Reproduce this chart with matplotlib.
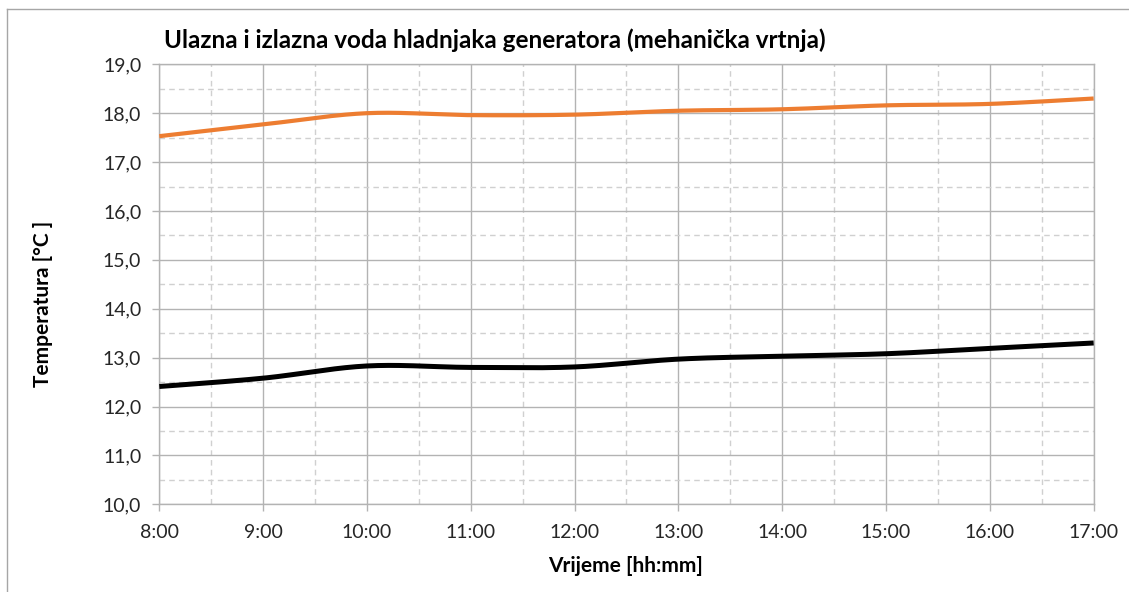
import numpy as np
import matplotlib
matplotlib.use("Agg")
from matplotlib import pyplot as plt
from matplotlib.lines import Line2D

plt.rcParams['font.family'] = ['Lato', 'DejaVu Sans']

# hourly readings, 8:00 - 17:00
hours = [8, 9, 10, 11, 12, 13, 14, 15, 16, 17]
hourLabels = ["8:00", "9:00", "10:00", "11:00", "12:00", "13:00", "14:00", "15:00", "16:00", "17:00"]
izlazna = [17.53, 17.77, 18.00, 17.96, 17.97, 18.05, 18.08, 18.16, 18.19, 18.30]
ulazna = [12.41, 12.58, 12.83, 12.80, 12.81, 12.97, 13.03, 13.08, 13.19, 13.30]
yTicks = [10, 11, 12, 13, 14, 15, 16, 17, 18, 19]

def smooth(x, y, n=30):
    # bezier smoothing like excel (catmull-rom control points)
    x = np.asarray(x, float)
    y = np.asarray(y, float)
    px = np.concatenate(([x[0]], x, [x[-1]]))
    py = np.concatenate(([y[0]], y, [y[-1]]))
    outx = []
    outy = []
    t = np.linspace(0, 1, n)
    for i in range(1, len(px) - 2):
        p0 = np.array([px[i], py[i]])
        p3 = np.array([px[i + 1], py[i + 1]])
        p1 = p0 + (np.array([px[i + 1], py[i + 1]]) - np.array([px[i - 1], py[i - 1]])) / 6
        p2 = p3 - (np.array([px[i + 2], py[i + 2]]) - np.array([px[i], py[i]])) / 6
        b = ((1 - t) ** 3)[:, None] * p0 + (3 * (1 - t) ** 2 * t)[:, None] * p1 \
            + (3 * (1 - t) * t ** 2)[:, None] * p2 + (t ** 3)[:, None] * p3
        outx.extend(b[:, 0])
        outy.extend(b[:, 1])
    return outx, outy

fig = plt.figure(figsize=(11.29, 5.92), dpi=100)
ax = fig.add_axes([0.1411, 0.1481, 0.8276, 0.7433])

sx, sy = smooth(hours, izlazna)
ax.plot(sx, sy, color="#ED7D31", lw=3.0, solid_capstyle="butt", zorder=3)
sx, sy = smooth(hours, ulazna)
ax.plot(sx, sy, color="black", lw=3.6, solid_capstyle="butt", zorder=3)

ax.set_xlim(8, 17)
ax.set_ylim(10, 19)
ax.set_xticks(hours)
ax.set_xticklabels(hourLabels)
ax.set_yticks(yTicks)
ax.set_yticklabels([("%.1f" % v).replace(".", ",") for v in yTicks])
ax.set_xticks(np.arange(8.5, 17, 1.0), minor=True)
ax.set_yticks(np.arange(10.5, 19, 1.0), minor=True)

ax.grid(which="major", color="#B3B3B3", lw=1.0)
ax.grid(which="minor", color="#D0D0D0", lw=1.0, ls=(0, (4, 3)))
ax.set_axisbelow(True)
for s in ax.spines.values():
    s.set_color("#B3B3B3")
    s.set_linewidth(1.0)
ax.tick_params(which="major", direction="out", length=5, width=1.0, color="#B3B3B3",
               labelsize=14, labelcolor="#262626")
ax.tick_params(axis="x", pad=9)
ax.tick_params(axis="y", pad=8)
ax.tick_params(which="minor", length=0)

fig.text(164 / 1129, 1 - 40 / 592, "Ulazna i izlazna voda hladnjaka generatora (mehanička vrtnja)",
         fontsize=17.5, fontweight="bold", ha="left", va="center", color="black")
fig.text(626 / 1129, 1 - 566 / 592, "Vrijeme [hh:mm]", fontsize=15, fontweight="bold",
         ha="center", va="center", color="black")
fig.text(43 / 1129, 1 - 304 / 592, "Temperatura [°C ]", fontsize=15, fontweight="bold",
         ha="center", va="center", rotation=90, color="black")

# chart frame
fig.add_artist(Line2D([7 / 1129, 7 / 1129], [0, 1 - 9 / 592], transform=fig.transFigure, color="#A6A6A6", lw=1.0))
fig.add_artist(Line2D([7 / 1129, 1], [1 - 9 / 592, 1 - 9 / 592], transform=fig.transFigure, color="#A6A6A6", lw=1.0))

fig.savefig("out.png", dpi=100)
